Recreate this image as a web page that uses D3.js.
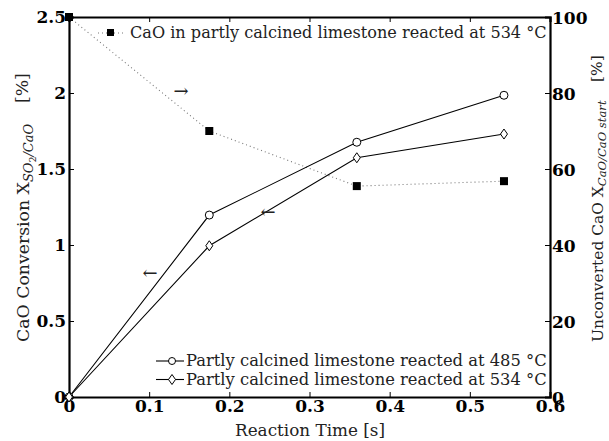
<!DOCTYPE html>
<html><head><meta charset="utf-8">
<script src="https://cdn.jsdelivr.net/npm/d3@7/dist/d3.min.js"></script>
<style>body{margin:0;background:#fff}svg{display:block}</style>
</head><body>
<script>
const times = [0, 0.175, 0.359, 0.5426];
const conv485 = [0, 1.197, 1.676, 1.985];
const conv534 = [0, 0.995, 1.574, 1.73];
const unconverted534 = [100, 70, 55.5, 56.8];
const xTicks = [0, 0.1, 0.2, 0.3, 0.4, 0.5, 0.6];
const yLeftTicks = [0, 0.5, 1, 1.5, 2, 2.5];
const yRightTicks = [0, 20, 40, 60, 80, 100];
const legend485 = "Partly calcined limestone reacted at 485 °C";
const legend534 = "Partly calcined limestone reacted at 534 °C";
const legendSq = "CaO in partly calcined limestone reacted at 534 °C";

const W = 609, H = 441;
const L = 69, R = 550, T = 17, B = 397;
const font = "DejaVu Serif";
const svg = d3.select("body").append("svg").attr("width", W).attr("height", H)
  .style("font-family", font);

const x = d3.scaleLinear().domain([0, 0.6]).range([L, R]);
const yL = d3.scaleLinear().domain([0, 2.5]).range([B, T]);
const yR = d3.scaleLinear().domain([0, 100]).range([B, T]);

function fit(sel, target) {
  const fs = parseFloat(sel.attr("font-size"));
  const w = sel.node().getBBox().width;
  sel.attr("font-size", fs * target / w);
  return sel;
}

// axes
const fmt = d => d === 0 ? "0" : String(d);
const axB = svg.append("g").attr("transform", `translate(0,${B})`)
  .call(d3.axisBottom(x).tickValues(xTicks).tickFormat(fmt).tickSize(-5).tickPadding(4));
const axT = svg.append("g").attr("transform", `translate(0,${T})`)
  .call(d3.axisTop(x).tickValues(xTicks).tickFormat("").tickSize(-5));
const axL = svg.append("g").attr("transform", `translate(${L},0)`)
  .call(d3.axisLeft(yL).tickValues(yLeftTicks).tickFormat(fmt).tickSize(-5).tickPadding(3));
const axR = svg.append("g").attr("transform", `translate(${R},0)`)
  .call(d3.axisRight(yR).tickValues(yRightTicks).tickFormat(fmt).tickSize(-5).tickPadding(2));
[axB, axT, axL, axR].forEach(a => {
  a.attr("font-family", font);
  a.select(".domain").attr("stroke", "#000").attr("stroke-width", 2.2);
  a.selectAll(".tick line").attr("stroke", "#000").attr("stroke-width", 1);
  a.selectAll("text").style("font-family", font).attr("font-weight", "bold")
    .attr("font-size", 17).attr("fill", "#000");
});
axB.selectAll(".tick text").attr("dy", "0.62em");
axR.selectAll(".tick text").attr("dy", "0.36em");

// dotted series (right axis)
const lineR = d3.line().x((d, i) => x(times[i])).y(d => yR(d));
svg.append("path").datum(unconverted534).attr("d", lineR)
  .attr("fill", "none").attr("stroke", "#777").attr("stroke-width", 1.1)
  .attr("stroke-dasharray", "1,3");
svg.selectAll(".sq").data(unconverted534).enter().append("rect")
  .attr("x", (d, i) => x(times[i]) - 4).attr("y", d => yR(d) - 4)
  .attr("width", 8).attr("height", 8).attr("fill", "#000");

// solid series (left axis)
const lineL = d3.line().x((d, i) => x(times[i])).y(d => yL(d));
svg.append("path").datum(conv485).attr("d", lineL)
  .attr("fill", "none").attr("stroke", "#000").attr("stroke-width", 1.1);
svg.append("path").datum(conv534).attr("d", lineL)
  .attr("fill", "none").attr("stroke", "#000").attr("stroke-width", 1.1);
svg.selectAll(".c").data(conv485).enter().append("circle")
  .attr("cx", (d, i) => x(times[i])).attr("cy", d => yL(d)).attr("r", 4)
  .attr("fill", "#fff").attr("stroke", "#000").attr("stroke-width", 1);
const diamond = (cx, cy) => `M${cx},${cy-5}L${cx+3.5},${cy}L${cx},${cy+5}L${cx-3.5},${cy}Z`;
svg.selectAll(".dm").data(conv534).enter().append("path")
  .attr("d", (d, i) => diamond(x(times[i]), yL(d)))
  .attr("fill", "#fff").attr("stroke", "#000").attr("stroke-width", 1);

// arrows
const arrow = (t, ax, ay) => svg.append("text").attr("x", ax).attr("y", ay)
  .attr("font-size", 18).attr("fill", "#222")
  .attr("text-anchor", "middle").text(t);
arrow("\u2192", 181, 97);
arrow("\u2190", 268, 218);
arrow("\u2190", 150, 279);

// top legend
svg.append("line").attr("x1", 98).attr("x2", 126).attr("y1", 33).attr("y2", 33)
  .attr("stroke", "#777").attr("stroke-width", 1.1).attr("stroke-dasharray", "1,3");
svg.append("rect").attr("x", 107).attr("y", 29).attr("width", 7).attr("height", 7).attr("fill", "#000");
fit(svg.append("text").attr("x", 130).attr("y", 38).attr("font-size", 15)
  .attr("fill", "#222").text(legendSq), 417);

// bottom legend
[[legend485, 361, "c"], [legend534, 379.5, "d"]].forEach(([t, ly, m]) => {
  svg.append("line").attr("x1", 156).attr("x2", 184).attr("y1", ly).attr("y2", ly)
    .attr("stroke", "#000").attr("stroke-width", 1.1);
  if (m === "c") svg.append("circle").attr("cx", 172).attr("cy", ly).attr("r", 3.5)
    .attr("fill", "#fff").attr("stroke", "#000");
  else svg.append("path").attr("d", diamond(172, ly)).attr("fill", "#fff").attr("stroke", "#000");
  fit(svg.append("text").attr("x", 186).attr("y", ly + 5).attr("font-size", 15)
    .attr("fill", "#222").text(t), 361);
});

// axis titles
fit(svg.append("text").attr("x", 310).attr("y", 436).attr("text-anchor", "middle")
  .attr("font-size", 15).attr("fill", "#222").text("Reaction Time [s]"), 150);

const lt = svg.append("text").attr("transform", "translate(29,342) rotate(-90)")
  .attr("font-size", 15).attr("fill", "#222");
lt.append("tspan").text("CaO Conversion X");
lt.append("tspan").attr("font-style", "italic").attr("font-size", "0.75em").attr("dy", "0.3em").text("SO");
lt.append("tspan").attr("font-size", "0.55em").attr("dy", "0.3em").text("2");
lt.append("tspan").attr("font-style", "italic").attr("font-size", "0.75em").attr("dy", "-0.2em").text("/CaO");
lt.append("tspan").attr("dy", "-0.3em").attr("dx", "1.2em").text("[%]");
fit(lt, 269);

const rt = svg.append("text").attr("transform", "translate(603,342) rotate(-90)")
  .attr("font-size", 15).attr("fill", "#222");
rt.append("tspan").text("Unconverted CaO X");
rt.append("tspan").attr("font-style", "italic").attr("font-size", "0.75em").attr("dy", "0.3em").text("CaO/CaO start");
rt.append("tspan").attr("dy", "-0.3em").attr("dx", "1.2em").text("[%]");
fit(rt, 287);
</script>
</body></html>
